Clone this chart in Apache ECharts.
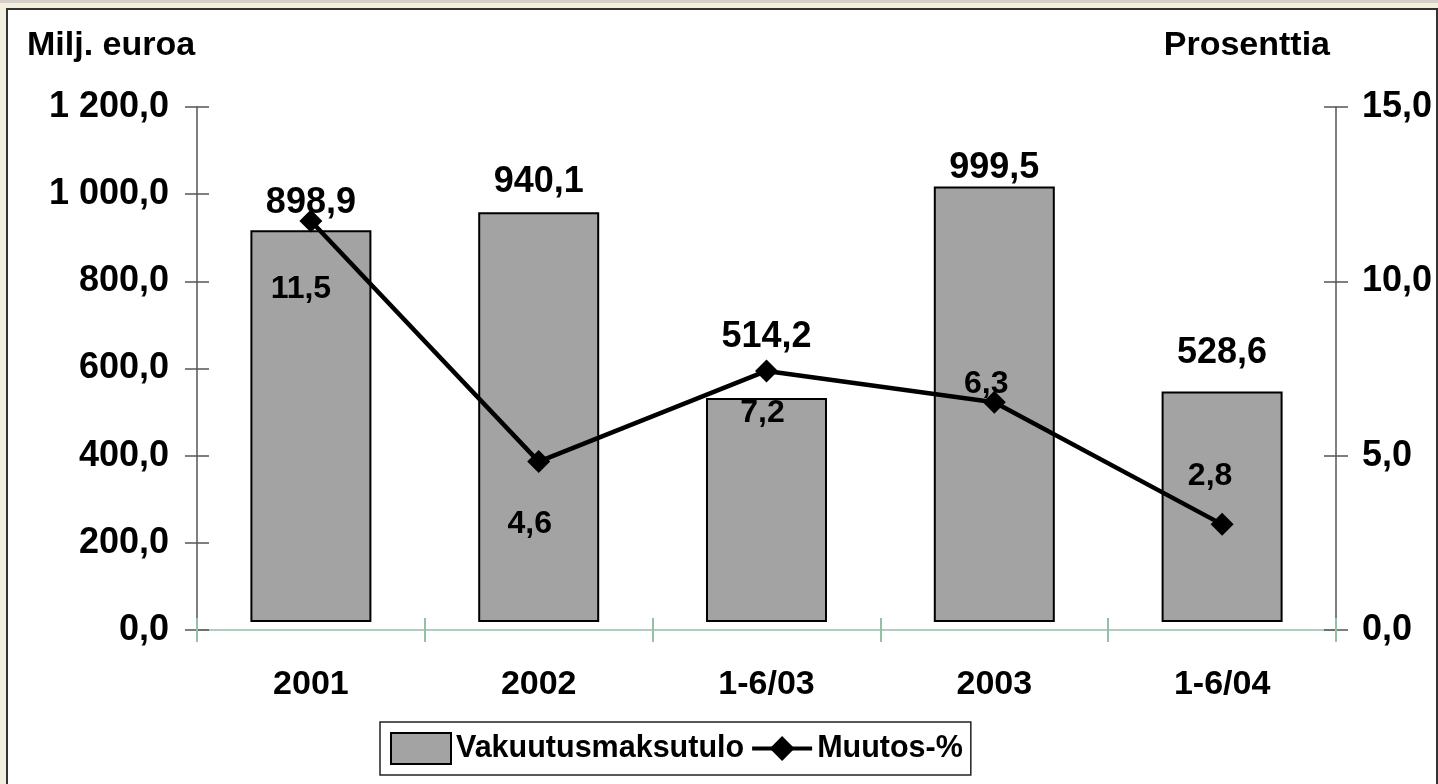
<!DOCTYPE html>
<html>
<head>
<meta charset="utf-8">
<script src="https://cdn.jsdelivr.net/npm/echarts@6/dist/echarts.min.js"></script>
<style>
  html, body { margin: 0; padding: 0; }
  #chart { width: 1438px; height: 784px; }
</style>
</head>
<body>
<div id="chart"></div>
<script>
// 数据
const categories = ['2001', '2002', '1-6/03', '2003', '1-6/04'];
const premiumIncome = [898.9, 940.1, 514.2, 999.5, 528.6];   // Milj. euroa
const changePct = [11.5, 4.6, 7.2, 6.3, 2.8];                // Prosenttia

// label placement (px), per point
const barLabelGap = [9, 12, 43, 0, 21];
const lineLabelOffset = [[-10, 68], [-9, 63], [-4, 42], [-8, -18], [-12, -48]];

const FONT = "'Liberation Sans', Arial, sans-serif";

function fmt(v) {
    let s = Number(v).toFixed(1).replace('.', ',');
    let parts = s.split(',');
    parts[0] = parts[0].replace(/\B(?=(\d{3})+(?!\d))/g, ' ');
    return parts.join(',');
}

(function () {
    let myChart = echarts.init(document.getElementById('chart'));

    const axisText = { color: '#000', fontSize: 36, fontWeight: 'bold', fontFamily: FONT };
    const greenLine = '#94c0a5';
    const darkLine = '#555';

    let option = {
        animation: false,
        textStyle: { fontFamily: FONT },
        graphic: {
            elements: [
                { type: 'rect', z: -100, shape: { x: 0, y: 0, width: 1438, height: 784 }, style: { fill: '#f3f0df' } },
                { type: 'rect', z: -99, shape: { x: 0, y: 0, width: 1438, height: 3 }, style: { fill: '#d4d0c8' } },
                { type: 'rect', z: -98, shape: { x: 7, y: 9, width: 1430, height: 780 }, style: { fill: '#fff', stroke: '#333', lineWidth: 2 } },
                { type: 'text', left: 27, top: 29, style: { text: 'Milj. euroa', fill: '#000', font: 'bold 34px ' + FONT } },
                { type: 'text', right: 108, top: 29, style: { text: 'Prosenttia', fill: '#000', font: 'bold 34px ' + FONT } }
            ]
        },
        grid: [
            { left: 197, right: 102, top: 107, bottom: 154 },   // axes
            { left: 197, right: 102, top: 99, bottom: 162 }     // series
        ],
        legend: {
            left: 380,
            top: 722,
            padding: [10, 8, 10, 10],
            borderColor: '#222',
            borderWidth: 1.5,
            itemWidth: 60,
            itemHeight: 31,
            itemGap: 6,
            textStyle: { color: '#000', fontSize: 30.5, fontWeight: 'bold', fontFamily: FONT },
            data: [
                { name: 'Vakuutusmaksutulo', icon: 'rect' },
                { name: 'Muutos-%', lineStyle: { width: 4, color: '#000' } }
            ]
        },
        xAxis: [
            {
                gridIndex: 0,
                type: 'category',
                position: 'bottom',
                data: categories,
                axisLine: { lineStyle: { color: greenLine, width: 1.5 } },
                axisTick: { show: true, length: 12, lineStyle: { color: greenLine, width: 2 } },
                axisLabel: Object.assign({ margin: 38 }, axisText, { fontSize: 34 })
            },
            {
                gridIndex: 0,
                type: 'category',
                position: 'bottom',
                data: categories,
                axisLine: { show: false },
                axisTick: { show: true, inside: true, length: 12, lineStyle: { color: greenLine, width: 2 } },
                axisLabel: { show: false }
            },
            { gridIndex: 1, type: 'category', data: categories, show: false }
        ],
        yAxis: [
            {
                gridIndex: 0, type: 'value', position: 'left',
                min: 0, max: 1200, interval: 200,
                axisLine: { show: true, lineStyle: { color: darkLine, width: 1.5 } },
                axisTick: { show: true, length: 12, lineStyle: { color: darkLine, width: 1.5 } },
                axisLabel: Object.assign({ margin: 28, formatter: fmt }, axisText),
                splitLine: { show: false }
            },
            {
                gridIndex: 0, type: 'value', position: 'right',
                min: 0, max: 15, interval: 5,
                axisLine: { show: true, lineStyle: { color: darkLine, width: 1.5 } },
                axisTick: { show: true, length: 12, lineStyle: { color: darkLine, width: 1.5 } },
                axisLabel: Object.assign({ margin: 26, formatter: fmt }, axisText),
                splitLine: { show: false }
            },
            {
                gridIndex: 0, type: 'value', position: 'left',
                min: 0, max: 1200, interval: 200,
                axisLine: { show: false },
                axisTick: { show: true, inside: true, length: 12, lineStyle: { color: darkLine, width: 1.5 } },
                axisLabel: { show: false },
                splitLine: { show: false }
            },
            {
                gridIndex: 0, type: 'value', position: 'right',
                min: 0, max: 15, interval: 5,
                axisLine: { show: false },
                axisTick: { show: true, inside: true, length: 12, lineStyle: { color: darkLine, width: 1.5 } },
                axisLabel: { show: false },
                splitLine: { show: false }
            },
            { gridIndex: 1, type: 'value', min: 0, max: 1200, show: false },
            { gridIndex: 1, type: 'value', min: 0, max: 15, show: false }
        ],
        series: [
            {
                name: 'Vakuutusmaksutulo',
                type: 'bar',
                xAxisIndex: 2,
                yAxisIndex: 4,
                barWidth: 121,
                itemStyle: { color: '#a3a3a3', borderColor: '#000', borderWidth: 2 },
                data: premiumIncome.map((v, i) => ({
                    value: v,
                    label: { distance: barLabelGap[i] }
                })),
                label: {
                    show: true,
                    position: 'top',
                    color: '#000',
                    fontSize: 36,
                    fontWeight: 'bold',
                    fontFamily: FONT,
                    formatter: p => fmt(p.value)
                }
            },
            {
                name: 'Muutos-%',
                type: 'line',
                xAxisIndex: 2,
                yAxisIndex: 5,
                symbol: 'diamond',
                symbolSize: 23,
                lineStyle: { color: '#000', width: 4.5 },
                itemStyle: { color: '#000' },
                z: 5,
                data: changePct.map((v, i) => ({
                    value: v,
                    label: { offset: lineLabelOffset[i] }
                })),
                label: {
                    show: true,
                    position: 'inside',
                    color: '#000',
                    fontSize: 32,
                    fontWeight: 'bold',
                    fontFamily: FONT,
                    formatter: p => fmt(p.value)
                }
            }
        ]
    };
    myChart.setOption(option);

    window.addEventListener('resize', function () {
        myChart.resize();
    });
})();
</script>
</body>
</html>
